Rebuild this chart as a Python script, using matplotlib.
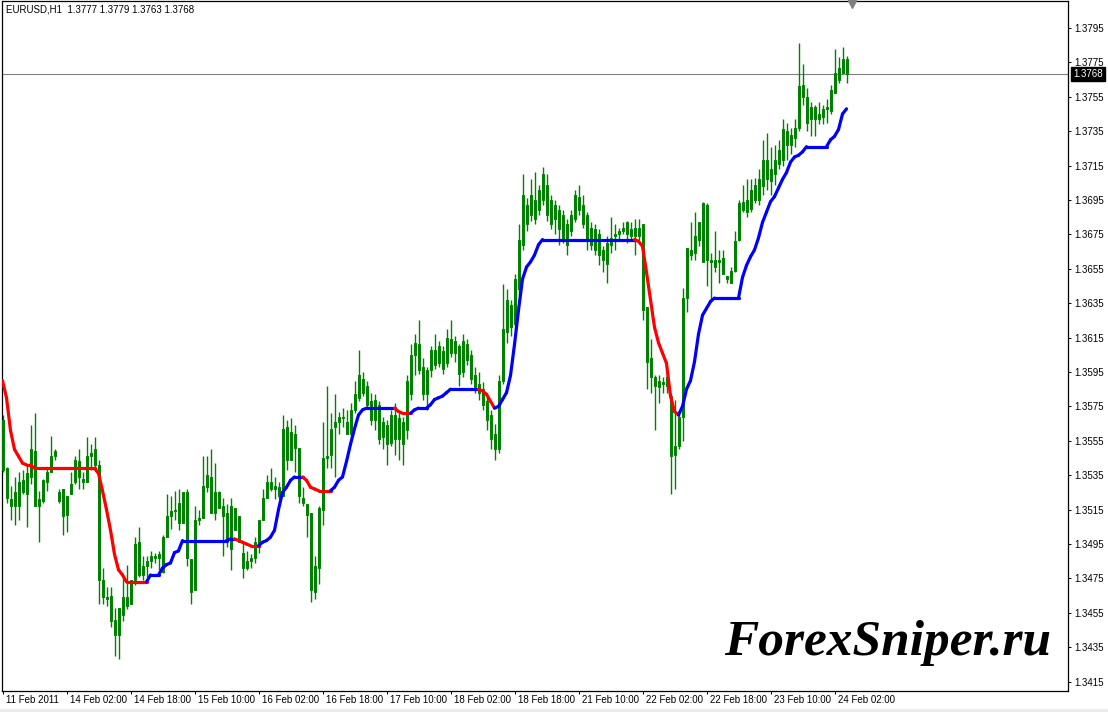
import numpy as np
import matplotlib
matplotlib.use("Agg")
import matplotlib.pyplot as plt
from matplotlib.collections import LineCollection
from matplotlib.patches import Rectangle

# EURUSD H1 bars, 11 Feb 2011 - 24 Feb 2011
opens = [
    1.3567, 1.3539, 1.3521, 1.3517, 1.3517, 1.3532, 1.3524, 1.3534, 1.3549, 1.3517,
    1.3520, 1.3531, 1.3537, 1.3546, 1.3525, 1.3527, 1.3512, 1.3524, 1.3531, 1.3543,
    1.3533, 1.3531, 1.3546, 1.3550, 1.3541, 1.3474, 1.3464, 1.3465, 1.3451, 1.3442,
    1.3454, 1.3464, 1.3460, 1.3474, 1.3496, 1.3477, 1.3482, 1.3485, 1.3488, 1.3487,
    1.3479, 1.3499, 1.3511, 1.3514, 1.3519, 1.3507, 1.3525, 1.3486, 1.3468, 1.3509,
    1.3510, 1.3528, 1.3534, 1.3513, 1.3525, 1.3517, 1.3513, 1.3492, 1.3516, 1.3511,
    1.3490, 1.3481, 1.3485, 1.3487, 1.3493, 1.3509, 1.3522, 1.3531, 1.3527, 1.3528,
    1.3523, 1.3563, 1.3544, 1.3559, 1.3551, 1.3522, 1.3518, 1.3513, 1.3467, 1.3481,
    1.3515, 1.3545, 1.3547, 1.3563, 1.3566, 1.3569, 1.3566, 1.3559, 1.3573, 1.3580,
    1.3591, 1.3587, 1.3578, 1.3567, 1.3576, 1.3557, 1.3564, 1.3554, 1.3570, 1.3556,
    1.3566, 1.3561, 1.3582, 1.3605, 1.3611, 1.3598, 1.3582, 1.3596, 1.3608, 1.3600,
    1.3607, 1.3600, 1.3614, 1.3606, 1.3610, 1.3595, 1.3611, 1.3605, 1.3593, 1.3588,
    1.3585, 1.3578, 1.3570, 1.3559, 1.3550, 1.3590, 1.3618, 1.3634, 1.3623, 1.3643,
    1.3669, 1.3692, 1.3686, 1.3695, 1.3689, 1.3695, 1.3704, 1.3695, 1.3684, 1.3689,
    1.3686, 1.3669, 1.3677, 1.3684, 1.3697, 1.3692, 1.3686, 1.3679, 1.3666, 1.3675,
    1.3666, 1.3658, 1.3669, 1.3674, 1.3675, 1.3677, 1.3675, 1.3678, 1.3674, 1.3674,
    1.3681, 1.3633, 1.3603, 1.3592, 1.3586, 1.3589, 1.3587, 1.3581, 1.3547, 1.3552,
    1.3569, 1.3638, 1.3666, 1.3664, 1.3672, 1.3659, 1.3692, 1.3660, 1.3656, 1.3660,
    1.3661, 1.3651, 1.3647, 1.3654, 1.3672, 1.3689, 1.3695, 1.3690, 1.3695, 1.3695,
    1.3703, 1.3718, 1.3706, 1.3710, 1.3716, 1.3718, 1.3735, 1.3727, 1.3731, 1.3737,
    1.3762, 1.3755, 1.3742, 1.3749, 1.3742, 1.3743, 1.3749, 1.3747, 1.3757, 1.3765,
    1.3769, 1.3777,
]
highs = [
    1.3570, 1.3540, 1.3529, 1.3534, 1.3537, 1.3538, 1.3541, 1.3564, 1.3571, 1.3526,
    1.3533, 1.3540, 1.3558, 1.3550, 1.3527, 1.3527, 1.3523, 1.3537, 1.3546, 1.3550,
    1.3537, 1.3557, 1.3553, 1.3557, 1.3544, 1.3481, 1.3470, 1.3470, 1.3458, 1.3458,
    1.3477, 1.3483, 1.3474, 1.3499, 1.3505, 1.3488, 1.3488, 1.3491, 1.3490, 1.3491,
    1.3500, 1.3524, 1.3523, 1.3526, 1.3527, 1.3525, 1.3527, 1.3486, 1.3517, 1.3515,
    1.3546, 1.3546, 1.3550, 1.3542, 1.3526, 1.3522, 1.3518, 1.3522, 1.3516, 1.3511,
    1.3496, 1.3491, 1.3489, 1.3499, 1.3509, 1.3527, 1.3535, 1.3539, 1.3534, 1.3531,
    1.3570, 1.3567, 1.3568, 1.3564, 1.3551, 1.3528, 1.3518, 1.3513, 1.3488, 1.3517,
    1.3566, 1.3587, 1.3571, 1.3582, 1.3572, 1.3574, 1.3573, 1.3577, 1.3590, 1.3608,
    1.3595, 1.3590, 1.3583, 1.3582, 1.3578, 1.3569, 1.3567, 1.3573, 1.3577, 1.3571,
    1.3569, 1.3593, 1.3611, 1.3617, 1.3625, 1.3603, 1.3598, 1.3610, 1.3617, 1.3613,
    1.3610, 1.3620, 1.3625, 1.3616, 1.3611, 1.3617, 1.3614, 1.3608, 1.3598, 1.3595,
    1.3589, 1.3582, 1.3573, 1.3565, 1.3593, 1.3646, 1.3643, 1.3637, 1.3652, 1.3681,
    1.3710, 1.3696, 1.3707, 1.3711, 1.3704, 1.3714, 1.3710, 1.3698, 1.3695, 1.3692,
    1.3689, 1.3684, 1.3689, 1.3701, 1.3704, 1.3698, 1.3688, 1.3682, 1.3681, 1.3678,
    1.3668, 1.3674, 1.3685, 1.3681, 1.3679, 1.3682, 1.3683, 1.3682, 1.3684, 1.3684,
    1.3681, 1.3633, 1.3614, 1.3593, 1.3593, 1.3592, 1.3598, 1.3583, 1.3579, 1.3571,
    1.3644, 1.3667, 1.3682, 1.3688, 1.3682, 1.3694, 1.3693, 1.3664, 1.3677, 1.3666,
    1.3666, 1.3651, 1.3656, 1.3677, 1.3695, 1.3704, 1.3707, 1.3707, 1.3708, 1.3713,
    1.3730, 1.3734, 1.3726, 1.3727, 1.3730, 1.3742, 1.3740, 1.3737, 1.3742, 1.3786,
    1.3774, 1.3760, 1.3752, 1.3750, 1.3752, 1.3750, 1.3754, 1.3762, 1.3783, 1.3778,
    1.3784, 1.3779,
]
lows = [
    1.3537, 1.3519, 1.3509, 1.3506, 1.3509, 1.3524, 1.3505, 1.3530, 1.3517, 1.3496,
    1.3519, 1.3526, 1.3537, 1.3544, 1.3519, 1.3500, 1.3502, 1.3524, 1.3530, 1.3527,
    1.3527, 1.3531, 1.3538, 1.3539, 1.3460, 1.3460, 1.3459, 1.3447, 1.3430, 1.3428,
    1.3450, 1.3457, 1.3460, 1.3471, 1.3476, 1.3474, 1.3476, 1.3481, 1.3484, 1.3480,
    1.3478, 1.3499, 1.3504, 1.3509, 1.3503, 1.3507, 1.3482, 1.3460, 1.3468, 1.3506,
    1.3510, 1.3525, 1.3513, 1.3509, 1.3516, 1.3488, 1.3493, 1.3480, 1.3503, 1.3496,
    1.3475, 1.3480, 1.3481, 1.3484, 1.3490, 1.3509, 1.3522, 1.3526, 1.3521, 1.3521,
    1.3523, 1.3538, 1.3544, 1.3537, 1.3519, 1.3517, 1.3499, 1.3461, 1.3463, 1.3472,
    1.3506, 1.3539, 1.3539, 1.3534, 1.3559, 1.3563, 1.3559, 1.3557, 1.3571, 1.3578,
    1.3581, 1.3574, 1.3564, 1.3561, 1.3553, 1.3550, 1.3541, 1.3552, 1.3547, 1.3544,
    1.3541, 1.3556, 1.3579, 1.3593, 1.3594, 1.3579, 1.3573, 1.3592, 1.3597, 1.3598,
    1.3594, 1.3598, 1.3604, 1.3601, 1.3587, 1.3592, 1.3599, 1.3588, 1.3583, 1.3579,
    1.3573, 1.3561, 1.3550, 1.3544, 1.3548, 1.3588, 1.3612, 1.3616, 1.3621, 1.3640,
    1.3666, 1.3677, 1.3683, 1.3681, 1.3686, 1.3692, 1.3683, 1.3678, 1.3675, 1.3669,
    1.3670, 1.3663, 1.3674, 1.3682, 1.3686, 1.3679, 1.3666, 1.3666, 1.3663, 1.3657,
    1.3653, 1.3647, 1.3664, 1.3666, 1.3672, 1.3675, 1.3670, 1.3672, 1.3663, 1.3672,
    1.3625, 1.3585, 1.3583, 1.3561, 1.3577, 1.3583, 1.3583, 1.3524, 1.3527, 1.3550,
    1.3555, 1.3630, 1.3660, 1.3660, 1.3668, 1.3659, 1.3645, 1.3636, 1.3653, 1.3647,
    1.3652, 1.3647, 1.3647, 1.3653, 1.3671, 1.3688, 1.3685, 1.3688, 1.3693, 1.3692,
    1.3698, 1.3701, 1.3698, 1.3704, 1.3713, 1.3715, 1.3718, 1.3722, 1.3726, 1.3735,
    1.3750, 1.3735, 1.3732, 1.3732, 1.3739, 1.3739, 1.3740, 1.3745, 1.3757, 1.3763,
    1.3769, 1.3763,
]
closes = [
    1.3538, 1.3522, 1.3517, 1.3525, 1.3531, 1.3525, 1.3536, 1.3550, 1.3517, 1.3521,
    1.3532, 1.3537, 1.3546, 1.3549, 1.3520, 1.3511, 1.3523, 1.3530, 1.3544, 1.3534,
    1.3531, 1.3546, 1.3548, 1.3541, 1.3474, 1.3464, 1.3463, 1.3450, 1.3442, 1.3458,
    1.3464, 1.3459, 1.3474, 1.3495, 1.3477, 1.3482, 1.3485, 1.3488, 1.3487, 1.3489,
    1.3499, 1.3511, 1.3514, 1.3515, 1.3507, 1.3525, 1.3487, 1.3467, 1.3509, 1.3510,
    1.3529, 1.3535, 1.3513, 1.3525, 1.3516, 1.3511, 1.3498, 1.3517, 1.3503, 1.3496,
    1.3481, 1.3485, 1.3487, 1.3496, 1.3509, 1.3522, 1.3531, 1.3527, 1.3529, 1.3523,
    1.3562, 1.3544, 1.3560, 1.3551, 1.3523, 1.3519, 1.3512, 1.3468, 1.3482, 1.3516,
    1.3545, 1.3546, 1.3562, 1.3566, 1.3569, 1.3568, 1.3559, 1.3573, 1.3582, 1.3593,
    1.3583, 1.3576, 1.3567, 1.3579, 1.3556, 1.3566, 1.3553, 1.3570, 1.3556, 1.3568,
    1.3553, 1.3590, 1.3605, 1.3612, 1.3596, 1.3582, 1.3596, 1.3608, 1.3599, 1.3610,
    1.3597, 1.3615, 1.3606, 1.3613, 1.3594, 1.3613, 1.3602, 1.3591, 1.3586, 1.3583,
    1.3576, 1.3567, 1.3556, 1.3550, 1.3590, 1.3620, 1.3637, 1.3621, 1.3649, 1.3672,
    1.3698, 1.3681, 1.3698, 1.3684, 1.3701, 1.3710, 1.3686, 1.3681, 1.3692, 1.3678,
    1.3672, 1.3681, 1.3686, 1.3698, 1.3689, 1.3681, 1.3672, 1.3669, 1.3678, 1.3663,
    1.3660, 1.3670, 1.3673, 1.3675, 1.3677, 1.3679, 1.3682, 1.3674, 1.3679, 1.3679,
    1.3631, 1.3601, 1.3592, 1.3587, 1.3590, 1.3588, 1.3592, 1.3546, 1.3552, 1.3569,
    1.3638, 1.3667, 1.3663, 1.3674, 1.3682, 1.3693, 1.3660, 1.3659, 1.3660, 1.3659,
    1.3652, 1.3649, 1.3654, 1.3671, 1.3693, 1.3694, 1.3688, 1.3701, 1.3704, 1.3707,
    1.3718, 1.3707, 1.3713, 1.3718, 1.3724, 1.3736, 1.3727, 1.3733, 1.3737, 1.3761,
    1.3755, 1.3740, 1.3749, 1.3742, 1.3745, 1.3748, 1.3748, 1.3759, 1.3769, 1.3772,
    1.3777, 1.3768,
]
# trend indicator (red = falling, blue = rising)
trend_line = [
    1.3590, 1.3580, 1.3561, 1.3550, 1.3546, 1.3542, 1.3541, 1.3541, 1.3539, 1.3539,
    1.3539, 1.3539, 1.3539, 1.3539, 1.3539, 1.3539, 1.3539, 1.3539, 1.3539, 1.3539,
    1.3539, 1.3539, 1.3539, 1.3539, 1.3536, 1.3526, 1.3515, 1.3503, 1.3489, 1.3480,
    1.3477, 1.3473, 1.3473, 1.3473, 1.3473, 1.3473, 1.3473, 1.3477, 1.3477, 1.3477,
    1.3481, 1.3483, 1.3484, 1.3490, 1.3491, 1.3497, 1.3497, 1.3497, 1.3497, 1.3497,
    1.3497, 1.3497, 1.3497, 1.3497, 1.3497, 1.3497, 1.3497, 1.3498, 1.3498, 1.3497,
    1.3496, 1.3495, 1.3494, 1.3494, 1.3494, 1.3496, 1.3497, 1.3499, 1.3503, 1.3515,
    1.3525, 1.3528, 1.3532, 1.3534, 1.3534, 1.3534, 1.3532, 1.3528, 1.3527, 1.3526,
    1.3526, 1.3526, 1.3526, 1.3528, 1.3532, 1.3534, 1.3543, 1.3553, 1.3562, 1.3570,
    1.3573, 1.3574, 1.3574, 1.3574, 1.3574, 1.3574, 1.3574, 1.3574, 1.3574, 1.3572,
    1.3571, 1.3571, 1.3571, 1.3573, 1.3574, 1.3574, 1.3574, 1.3576, 1.3579, 1.3580,
    1.3581, 1.3583, 1.3585, 1.3585, 1.3585, 1.3585, 1.3585, 1.3585, 1.3585, 1.3585,
    1.3584, 1.3582, 1.3578, 1.3574, 1.3575, 1.3579, 1.3583, 1.3593, 1.3611, 1.3631,
    1.3649, 1.3656, 1.3659, 1.3663, 1.3669, 1.3672, 1.3672, 1.3672, 1.3672, 1.3672,
    1.3672, 1.3672, 1.3672, 1.3672, 1.3672, 1.3672, 1.3672, 1.3672, 1.3672, 1.3672,
    1.3672, 1.3672, 1.3672, 1.3672, 1.3672, 1.3672, 1.3672, 1.3672, 1.3672, 1.3671,
    1.3668, 1.3653, 1.3637, 1.3621, 1.3612, 1.3606, 1.3600, 1.3581, 1.3572, 1.3570,
    1.3575, 1.3585, 1.3590, 1.3601, 1.3617, 1.3628, 1.3632, 1.3636, 1.3638, 1.3638,
    1.3638, 1.3638, 1.3638, 1.3638, 1.3638, 1.3650, 1.3657, 1.3662, 1.3666, 1.3673,
    1.3682, 1.3688, 1.3694, 1.3697, 1.3702, 1.3707, 1.3711, 1.3717, 1.3720, 1.3721,
    1.3723, 1.3726, 1.3726, 1.3726, 1.3726, 1.3726, 1.3726, 1.3730, 1.3732, 1.3736,
    1.3745, 1.3748,
]
time_labels = ["11 Feb 2011", "14 Feb 02:00", "14 Feb 18:00", "15 Feb 10:00",
               "16 Feb 02:00", "16 Feb 18:00", "17 Feb 10:00", "18 Feb 02:00",
               "18 Feb 18:00", "21 Feb 10:00", "22 Feb 02:00", "22 Feb 18:00",
               "23 Feb 10:00", "24 Feb 02:00"]
symbol = "EURUSD,H1"
bid = closes[-1]

plt.rcParams['font.family'] = ['Liberation Sans', 'DejaVu Sans']

W, H = 1108, 712
fig = plt.figure(figsize=(W / 100, H / 100), dpi=100)
fig.patch.set_facecolor('white')
# plot area in pixels: x 2..1068, y 1..691
ax = fig.add_axes([2 / W, 1 - 691 / H, 1066 / W, 690 / H])

n = len(closes)
x = np.arange(n)
o = np.array(opens); h = np.array(highs); l = np.array(lows); c = np.array(closes)

# candles, all drawn in one green like the terminal
green = '#008000'
ax.vlines(x, l, h, color=green, lw=1.0, zorder=2)
ax.bar(x, np.abs(c - o), bottom=np.minimum(o, c), width=0.5,
       color=green, edgecolor=green, lw=0.7, zorder=3)

# indicator, coloured by direction
tl = np.array(trend_line)
colors = []
up = False
for i in range(1, n):
    if tl[i] > tl[i - 1]:
        up = True
    elif tl[i] < tl[i - 1]:
        up = False
    colors.append('#0000FF' if up else '#FF0000')
segs = [[(x[i - 1], tl[i - 1]), (x[i], tl[i])] for i in range(1, n)]
ax.add_collection(LineCollection(segs, colors=colors, linewidths=2.3,
                                 capstyle='round', zorder=4))

# bid line
ax.axhline(bid, color='#808080', lw=0.8, zorder=1)

ax.set_xlim(-0.125, -0.125 + 1066 / 4)
ax.set_ylim(1.3795 - 663 / 17200, 1.3795 + 27 / 17200)

for s in ax.spines.values():
    s.set_color('black')
    s.set_linewidth(0.9)

# price scale on the right
ax.yaxis.tick_right()
yt = np.round(np.arange(1.3415, 1.37951, 0.002), 4)
ax.set_yticks(yt)
ax.set_yticklabels([f"{v:.4f}" for v in yt])
ax.tick_params(axis='y', direction='out', length=2.5, width=0.7, pad=2,
               labelsize=7, colors='black')

# time scale
ax.set_xticks(np.arange(len(time_labels)) * 16)
ax.set_xticklabels([])
ax.tick_params(axis='x', direction='out', length=2.5, width=0.7)
for k, lab in enumerate(time_labels):
    ax.annotate(lab, xy=(k * 16, 0), xycoords=('data', 'axes fraction'),
                xytext=(3, -4), textcoords='offset pixels',
                ha='left', va='top', fontsize=7, annotation_clip=False)

# bid price label
ax.annotate(f"{bid:.4f}", xy=(1, bid), xycoords=('axes fraction', 'data'),
            xytext=(5, 0), textcoords='offset pixels', ha='left', va='center',
            fontsize=7, color='white', annotation_clip=False,
            bbox=dict(boxstyle='square,pad=0.2', fc='black', ec='black'))

# chart shift marker
ax.plot([212.4], [1 - 3 / 690], transform=ax.get_xaxis_transform(),
        marker='v', ms=6, color='#808080', clip_on=False, zorder=5)

# header
fig.text(6 / W, 1 - 9 / H,
         f"{symbol}  {opens[-1]:.4f} {highs[-1]:.4f} {lows[-1]:.4f} {closes[-1]:.4f}",
         fontsize=7, va='center', ha='left')

# watermark
fig.text(724 / W, 1 - 655 / H, "ForexSniper.ru", fontsize=37,
         family='Liberation Serif', fontweight='bold', fontstyle='italic',
         ha='left', va='baseline')

fig.patches.append(Rectangle((0, 0), 1, 3 / H, transform=fig.transFigure,
                             fc='#ECECEC', ec='none'))

fig.savefig('out.png', dpi=100)
